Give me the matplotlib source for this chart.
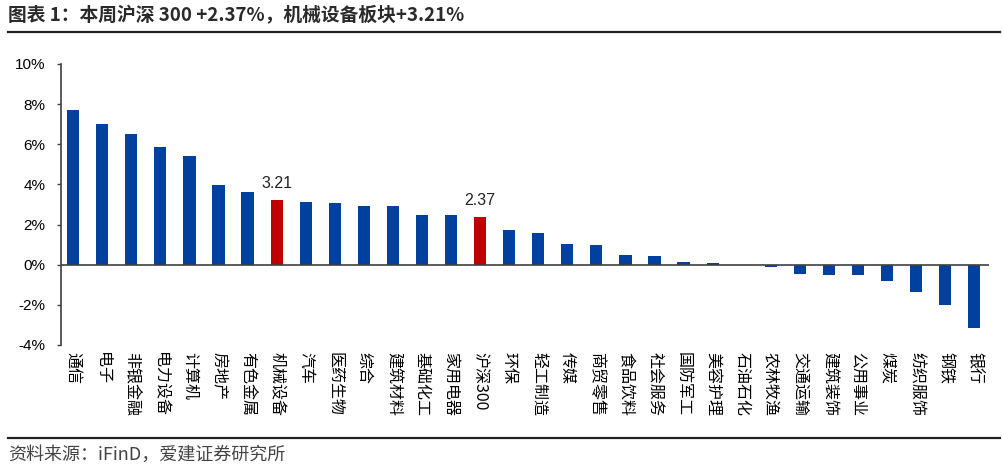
import matplotlib
matplotlib.use("Agg")
import matplotlib.pyplot as plt
from matplotlib.lines import Line2D

plt.rcParams['font.family'] = ['Noto Sans CJK SC', 'DejaVu Sans']

sectors = ['通信', '电子', '非银金融', '电力设备', '计算机', '房地产', '有色金属', '机械设备',
           '汽车', '医药生物', '综合', '建筑材料', '基础化工', '家用电器', '沪深300', '环保',
           '轻工制造', '传媒', '商贸零售', '食品饮料', '社会服务', '国防军工', '美容护理', '石油石化',
           '农林牧渔', '交通运输', '建筑装饰', '公用事业', '煤炭', '纺织服饰', '钢铁', '银行']
changes = [7.68, 7.03, 6.50, 5.86, 5.39, 3.95, 3.63, 3.21,
           3.10, 3.09, 2.94, 2.93, 2.47, 2.46, 2.37, 1.72,
           1.58, 1.01, 1.00, 0.48, 0.41, 0.15, 0.08, 0.0,
           -0.12, -0.45, -0.50, -0.53, -0.83, -1.36, -2.02, -3.17]
highlight = ['机械设备', '沪深300']

blue = '#0041a0'
red = '#c00000'

fig = plt.figure(figsize=(10.03, 4.70), dpi=100)
ax = fig.add_axes([0.0608, 0.266, 0.925, 0.598])

colors = [red if s in highlight else blue for s in sectors]
x = list(range(len(sectors)))
ax.bar(x, changes, width=0.42, color=colors, zorder=2)

for i, s in enumerate(sectors):
    if s in highlight:
        ax.text(i, changes[i] + 0.45, f'{changes[i]:.2f}', ha='center', va='bottom',
                fontsize=11.5, family=['Liberation Sans', 'DejaVu Sans'], color='#222222')

ax.axhline(0, color='#404040', linewidth=1.2, zorder=3)
ax.set_ylim(-4, 10)
ax.set_xlim(-0.42, 31.5)
ax.set_yticks(range(-4, 11, 2))
ax.set_yticklabels([f'{v}%' for v in range(-4, 11, 2)],
                   fontsize=11, family=['Liberation Sans', 'DejaVu Sans'])
ax.tick_params(axis='y', direction='out', length=3, width=1, color='#404040', pad=8)
ax.set_xticks(x)
ax.set_xticklabels(sectors, rotation=270, fontsize=11.5, va='top', ha='center')
ax.tick_params(axis='x', length=0, pad=5)
for side in ['top', 'right', 'bottom']:
    ax.spines[side].set_visible(False)
ax.spines['left'].set_color('#404040')
ax.spines['left'].set_linewidth(1.2)

fig.text(0.008, 0.966, '图表 1：本周沪深 300 +2.37%，机械设备板块+3.21%', fontsize=13.5,
         fontweight='bold', color='#2a2a2a', va='center', ha='left')
fig.add_artist(Line2D([0.008, 0.997], [0.932, 0.932], color='#222222', linewidth=1.6))
fig.add_artist(Line2D([0.008, 0.997], [0.069, 0.069], color='#222222', linewidth=1.6))
fig.text(0.008, 0.032, '资料来源：iFinD，爱建证券研究所', fontsize=13,
         color='#444444', va='center', ha='left')

fig.savefig('out.png', dpi=100)
